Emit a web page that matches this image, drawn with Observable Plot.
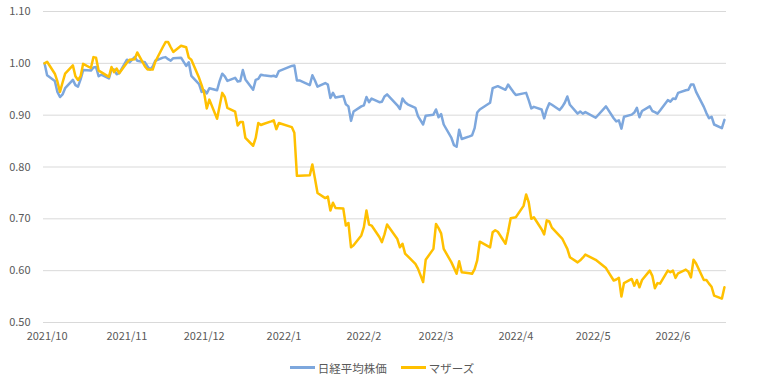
<!DOCTYPE html>
<html>
<head>
<meta charset="utf-8">
<script src="https://cdn.jsdelivr.net/npm/d3@7"></script>
<script src="https://cdn.jsdelivr.net/npm/@observablehq/plot@0.6"></script>
<style>
  html, body { margin: 0; padding: 0; background: #ffffff; }
  body { width: 760px; height: 385px; overflow: hidden; font-family: "Noto Sans CJK JP", "Noto Sans", sans-serif; }
  #chart svg { display: block; }
  #legend { height: 35px; display: flex; justify-content: center; align-items: center; font-size: 11.5px; color: #595959; padding-left: 4px; box-sizing: border-box; }
  #legend .item { display: flex; align-items: center; margin: 0 7px; }
  #legend .sw { display: inline-block; width: 25px; height: 3px; margin-right: 3px; }
</style>
</head>
<body>
<div id="chart"></div>
<div id="legend"></div>
<script>
// ---- data (ratio to 2021/9/30) ----
const dates = [
"2021-09-30","2021-10-01","2021-10-04","2021-10-05","2021-10-06","2021-10-07","2021-10-08","2021-10-11","2021-10-12","2021-10-13",
"2021-10-14","2021-10-15","2021-10-18","2021-10-19","2021-10-20","2021-10-21","2021-10-22","2021-10-25","2021-10-26","2021-10-27",
"2021-10-28","2021-10-29","2021-11-01","2021-11-02","2021-11-04","2021-11-05","2021-11-08","2021-11-09","2021-11-10","2021-11-11",
"2021-11-12","2021-11-15","2021-11-16","2021-11-17","2021-11-18","2021-11-19","2021-11-22","2021-11-24","2021-11-25","2021-11-26",
"2021-11-29","2021-11-30","2021-12-01","2021-12-02","2021-12-03","2021-12-06","2021-12-07","2021-12-08","2021-12-09","2021-12-10",
"2021-12-13","2021-12-14","2021-12-15","2021-12-16","2021-12-17","2021-12-20","2021-12-21","2021-12-22","2021-12-23","2021-12-24",
"2021-12-27","2021-12-28","2021-12-29","2021-12-30","2022-01-04","2022-01-05","2022-01-06","2022-01-07","2022-01-11","2022-01-12",
"2022-01-13","2022-01-14","2022-01-17","2022-01-18","2022-01-19","2022-01-20","2022-01-21","2022-01-24","2022-01-25","2022-01-26",
"2022-01-27","2022-01-28","2022-01-31","2022-02-01","2022-02-02","2022-02-03","2022-02-04","2022-02-07","2022-02-08","2022-02-09",
"2022-02-10","2022-02-14","2022-02-15","2022-02-16","2022-02-17","2022-02-18","2022-02-21","2022-02-22","2022-02-24","2022-02-25",
"2022-02-28","2022-03-01","2022-03-02","2022-03-03","2022-03-04","2022-03-07","2022-03-08","2022-03-09","2022-03-10","2022-03-11",
"2022-03-14","2022-03-15","2022-03-16","2022-03-17","2022-03-18","2022-03-22","2022-03-23","2022-03-24","2022-03-25","2022-03-28",
"2022-03-29","2022-03-30","2022-03-31","2022-04-01","2022-04-04","2022-04-05","2022-04-06","2022-04-07","2022-04-08","2022-04-11",
"2022-04-12","2022-04-13","2022-04-14","2022-04-15","2022-04-18","2022-04-19","2022-04-20","2022-04-21","2022-04-22","2022-04-25",
"2022-04-26","2022-04-27","2022-04-28","2022-05-02","2022-05-06","2022-05-09","2022-05-10","2022-05-11","2022-05-12","2022-05-13",
"2022-05-16","2022-05-17","2022-05-18","2022-05-19","2022-05-20","2022-05-23","2022-05-24","2022-05-25","2022-05-26","2022-05-27",
"2022-05-30","2022-05-31","2022-06-01","2022-06-02","2022-06-03","2022-06-06","2022-06-07","2022-06-08","2022-06-09","2022-06-10",
"2022-06-13","2022-06-14","2022-06-15","2022-06-16","2022-06-17","2022-06-20","2022-06-21"
];
const nikkei = [
1.000,0.977,0.966,0.945,0.935,0.940,0.952,0.968,0.958,0.955,
0.969,0.987,0.986,0.992,0.993,0.975,0.978,0.971,0.988,0.988,
0.979,0.981,1.007,1.002,1.012,1.005,1.002,0.994,0.988,0.994,
1.005,1.011,1.012,1.008,1.005,1.010,1.011,0.995,1.002,0.976,
0.960,0.945,0.948,0.942,0.952,0.948,0.966,0.980,0.975,0.966,
0.972,0.965,0.966,0.987,0.969,0.949,0.968,0.970,0.978,0.977,
0.975,0.976,0.974,0.985,0.995,0.996,0.967,0.967,0.958,0.977,
0.967,0.955,0.962,0.959,0.933,0.943,0.934,0.937,0.921,0.917,
0.889,0.907,0.917,0.919,0.935,0.925,0.932,0.925,0.926,0.936,
0.940,0.919,0.912,0.932,0.925,0.921,0.914,0.898,0.882,0.899,
0.901,0.911,0.896,0.902,0.882,0.856,0.842,0.839,0.872,0.854,
0.859,0.861,0.875,0.905,0.911,0.924,0.952,0.954,0.956,0.949,
0.959,0.952,0.945,0.939,0.942,0.943,0.929,0.913,0.916,0.911,
0.894,0.911,0.923,0.920,0.910,0.916,0.924,0.936,0.920,0.903,
0.907,0.903,0.906,0.895,0.917,0.894,0.888,0.890,0.874,0.897,
0.901,0.905,0.914,0.896,0.908,0.917,0.908,0.906,0.903,0.909,
0.929,0.926,0.932,0.931,0.943,0.948,0.949,0.959,0.959,0.945,
0.916,0.904,0.894,0.897,0.882,0.875,0.891
];
const mothers = [
1.000,1.003,0.980,0.965,0.945,0.963,0.980,0.996,0.975,0.968,
0.975,0.999,0.991,1.012,1.011,0.986,0.983,0.974,0.993,0.983,
0.990,0.981,1.001,1.007,1.008,1.021,0.994,0.988,0.988,0.988,
1.003,1.032,1.041,1.041,1.031,1.022,1.034,1.031,1.011,1.007,
0.972,0.958,0.942,0.913,0.930,0.893,0.918,0.943,0.935,0.914,
0.907,0.880,0.887,0.887,0.856,0.841,0.856,0.885,0.881,0.883,
0.888,0.890,0.873,0.885,0.877,0.866,0.783,0.783,0.784,0.805,
0.778,0.750,0.740,0.743,0.716,0.731,0.721,0.720,0.687,0.692,
0.645,0.649,0.668,0.684,0.716,0.689,0.687,0.665,0.655,0.670,
0.689,0.661,0.645,0.652,0.633,0.628,0.613,0.604,0.578,0.621,
0.642,0.690,0.682,0.672,0.642,0.616,0.605,0.594,0.618,0.597,
0.595,0.594,0.603,0.620,0.656,0.645,0.674,0.678,0.675,0.652,
0.675,0.701,0.702,0.703,0.725,0.747,0.732,0.700,0.703,0.680,
0.670,0.697,0.695,0.683,0.667,0.662,0.652,0.642,0.626,0.616,
0.620,0.625,0.631,0.621,0.605,0.581,0.583,0.586,0.550,0.576,
0.584,0.571,0.582,0.568,0.582,0.600,0.590,0.566,0.576,0.575,
0.600,0.597,0.600,0.586,0.595,0.602,0.598,0.587,0.621,0.614,
0.582,0.582,0.575,0.569,0.552,0.546,0.568
];
const seriesNames = ["日経平均株価", "マザーズ"];
const seriesColors = ["#7DA7DD", "#FFC000"];
const yTicks = [0.50, 0.60, 0.70, 0.80, 0.90, 1.00, 1.10];
const xTickDates = ["2021-10-01","2021-11-01","2021-12-01","2022-01-01","2022-02-01","2022-03-01","2022-04-01","2022-05-01","2022-06-01"];
const xTickLabels = ["2021/10","2021/11","2021/12","2022/1","2022/2","2022/3","2022/4","2022/5","2022/6"];

// ---- build table ----
const parse = d3.utcParse("%Y-%m-%d");
const rows = [];
dates.forEach((d, i) => {
  rows.push({date: parse(d), value: nikkei[i], series: seriesNames[0]});
});
dates.forEach((d, i) => {
  rows.push({date: parse(d), value: mothers[i], series: seriesNames[1]});
});
const tickDates = xTickDates.map(parse);
const labelMap = new Map(tickDates.map((d, i) => [+d, xTickLabels[i]]));
const DAY = 864e5;
const d0 = +parse(dates[0]);
const d1 = +parse(dates[dates.length - 1]);

const chart = Plot.plot({
  width: 760,
  height: 350,
  marginTop: 11,
  marginBottom: 28,
  marginLeft: 43,
  marginRight: 34,
  style: {fontFamily: '"Noto Sans CJK JP", "Noto Sans", sans-serif', fontSize: "11px", color: "#595959", background: "#ffffff"},
  x: {type: "utc", domain: [new Date(d0 - 0.4 * DAY), new Date(d1 + 0.8 * DAY)]},
  y: {domain: [0.5, 1.1]},
  color: {domain: seriesNames, range: seriesColors},
  marks: [
    Plot.gridY(yTicks, {stroke: "#d9d9d9", strokeOpacity: 1, strokeWidth: 1}),
    Plot.axisY(yTicks, {tickSize: 0, tickPadding: 13, tickFormat: d3.format(".2f"), label: null, fill: "#595959", fontSize: 11}),
    Plot.axisX(tickDates, {tickSize: 0, tickPadding: 10, tickFormat: d => labelMap.get(+d), label: null, fill: "#595959", fontSize: 11}),
    Plot.line(rows, {x: "date", y: "value", z: "series", stroke: "series", strokeWidth: 2.5, strokeLinejoin: "round", strokeLinecap: "round"})
  ]
});
document.getElementById("chart").appendChild(chart);

const legend = document.getElementById("legend");
seriesNames.forEach((name, i) => {
  const item = document.createElement("span");
  item.className = "item";
  const sw = document.createElement("span");
  sw.className = "sw";
  sw.style.background = seriesColors[i];
  const label = document.createElement("span");
  label.textContent = name;
  item.appendChild(sw);
  item.appendChild(label);
  legend.appendChild(item);
});
</script>
</body>
</html>
